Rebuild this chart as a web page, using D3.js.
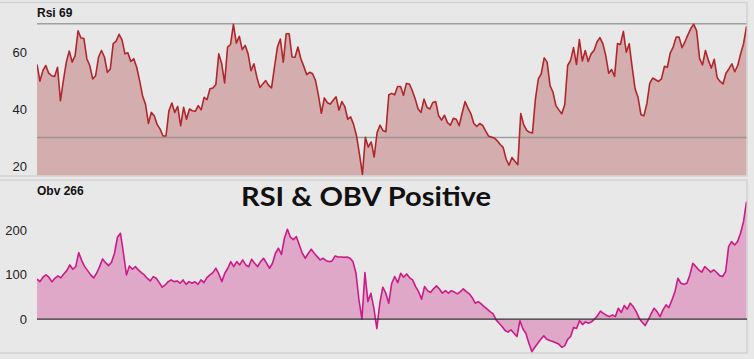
<!DOCTYPE html>
<html>
<head>
<meta charset="utf-8">
<script src="https://cdn.jsdelivr.net/npm/d3@7"></script>
<style>
  body { margin: 0; background: #e8e8e8; }
  svg { display: block; }
</style>
</head>
<body>
<svg width="754" height="359"></svg>
<script>
// values, left to right
const rsiValues = [
  55.7, 49.8, 53.5, 55.3, 52.6, 51.7, 51.4, 54.7, 42.9, 50,
  56.5, 60.4, 56.5, 58.8, 67.5, 65, 64.8, 57.7, 55.3, 50.6,
  51.7, 58.3, 60.6, 58.3, 52.9, 54.1, 63, 63.9, 66.3, 64.3,
  59.4, 59.8, 56.7, 57.7, 54.7, 50, 44.7, 41.7, 34.9, 38.8,
  37.6, 34.5, 32.9, 30.5, 30.5, 39.4, 42.1, 38.8, 40.9, 34.1,
  40.6, 36.4, 40, 39.4, 39.2, 41.2, 39.7, 44.1, 43.3, 47.1,
  47.4, 48.6, 59.4, 55.9, 49.2, 61.8, 62.7, 69.8, 63.2, 65.6,
  60.9, 62.4, 59.4, 53.5, 55.9, 51.2, 47.6, 48.8, 50, 48.3,
  47.4, 54.7, 61.8, 64.6, 56.5, 66.5, 66.5, 58.3, 58.2, 61.8,
  57.7, 55, 52.1, 52.9, 52.4, 50, 44.8, 38.5, 43.9, 42.3,
  41.7, 43.1, 44.3, 39.6, 42.6, 40.8, 36.4, 37.2, 34.5, 30.5,
  24, 17, 30, 26.6, 28.4, 23.1, 31.7, 34.3, 32.4, 32,
  45, 45.5, 45, 47.9, 47.9, 44.8, 49, 48.8, 46.5, 43.5,
  40, 38.8, 43.5, 40.6, 40, 42.3, 42.6, 37.6, 36.1, 37.8,
  35.2, 34.3, 36.7, 36.4, 34.1, 38.5, 42.6, 40.3, 38.3, 34.9,
  33.9, 34.9, 34.2, 32.3, 30.5, 30.1, 29.8, 28.8, 27.5, 26.5,
  22.4, 20.2, 22.9, 21.6, 20.4, 38.4, 34.5, 32.6, 31.8, 31.6,
  43.5, 50.6, 52.4, 58, 56.5, 48.2, 45.9, 41.2, 39.7, 38.3,
  41.5, 55.3, 57.1, 61.6, 55.7, 64.4, 56.9, 60.6, 56.7, 59.4,
  60.6, 63.6, 65.1, 63, 58.8, 52.6, 53.9, 51.5, 63, 62.7,
  67.3, 60, 63, 54.7, 47.1, 44.1, 38, 37.6, 41.8, 49,
  50.9, 50.3, 49.7, 50.6, 55, 54.7, 59.7, 61.8, 65.3, 65.3,
  61.6, 63.6, 66.1, 68.3, 69.8, 67.5, 57.7, 55.5, 60.6, 57.1,
  54.4, 57.5, 51, 49.7, 48.8, 52.6, 54.1, 55.9, 53.1, 55.3,
  59.4, 63, 69.1
];

const obvValues = [
  90, 84.5, 94.4, 99.6, 94.4, 83.8, 92, 97.3, 93, 101.8,
  109.2, 122, 112.3, 118.2, 149.7, 131.7, 118.2, 109.2, 99.6, 93,
  103.3, 118.2, 135.5, 127.2, 120.5, 128, 148.3, 184.3, 193.3, 148.3,
  99.6, 119.8, 112.3, 118.2, 110.7, 104.8, 99.6, 92, 86, 95.7,
  92, 82.2, 71.9, 77, 84.5, 88.3, 84.5, 86, 80.9, 88.3,
  78.4, 84.5, 80.9, 84, 78.4, 88.3, 82.2, 93.5, 99.6, 104.8,
  114.6, 101.8, 84.5, 103.3, 114.6, 129.5, 118.2, 129.5, 122, 133.3,
  122, 118, 134.8, 125.7, 118.2, 129.5, 137, 126, 114.6, 125.8,
  148.3, 159.6, 145.5, 182, 202.2, 184.3, 178.7, 185.6, 167, 148.3,
  137, 148.3, 157.3, 148.3, 140.7, 133.3, 137, 131.5, 129.5, 131,
  142.2, 139.7, 140, 139, 140, 137, 129.5, 103.3, 43.4, 0,
  104.8, 39.6, 58.4, 24.7, -21, 36, 71.9, 58.4, 36, 80.9,
  96, 82.2, 103.3, 94.4, 101.8, 93, 88.3, 73.3, 62, 44.9,
  73.3, 64.3, 60, 68.3, 74.8, 68, 58.4, 64.3, 58.4, 64,
  61, 56.9, 62, 68.3, 62, 57, 48.5, 36, 39.6, 34.5,
  28.4, 22.5, 17.1, 12, -1.6, -9, -16.6, -25.6, -29, -24,
  -31.5, -39, -3.5, -22, -31.5, -54, -72.8, -63, -54, -45,
  -37.5, -45, -48, -50.3, -53, -56, -63, -60, -45.5, -39,
  -18.5, -21, -3.5, -12, -6, -9, -6, 0, 8, 18,
  13, 9, 5.8, 9.5, 5.8, 24.7, 15, 30.6, 22.5, 36,
  28.4, 17.1, 2, -6.8, -14.3, -2, 12, 24.7, 17.1, 5.8,
  20.9, 32.1, 26.2, 43.4, 62, 92, 80.9, 78.4, 80.9, 99.6,
  125.8, 118.2, 110.8, 105.8, 118.2, 112.3, 105.8, 111, 105, 98,
  96, 107, 163.1, 174.4, 167, 174.4, 193.3, 219.3, 264.3
];

const rsiTicks = [20, 40, 60];
const rsiBands = [30, 70];
const obvTicks = [0, 100, 200];
const rsiLabel = 'Rsi 69';
const obvLabel = 'Obv 266';
const title = 'RSI & OBV Positive';

const svg = d3.select('svg');
const left = 37, right = 746.5;

// panel frames
svg.append('rect').attr('x', -1).attr('y', 2.5).attr('width', 748).attr('height', 173.5)
  .attr('fill', 'none').attr('stroke', '#d2d2d2').attr('stroke-width', 1.5);
svg.append('rect').attr('x', -1).attr('y', 180).attr('width', 748).attr('height', 173)
  .attr('fill', 'none').attr('stroke', '#d2d2d2').attr('stroke-width', 1.5);

// ---- RSI panel ----
const xRsi = d3.scaleLinear().domain([0, rsiValues.length - 1]).range([left, right]);
const yRsi = d3.scaleLinear().domain([16.6, 77.3]).range([175.5, 3]);

svg.append('clipPath').attr('id', 'clipRsi')
  .append('rect').attr('x', left).attr('y', 3).attr('width', right - left).attr('height', 172.5);

const gRsi = svg.append('g').attr('clip-path', 'url(#clipRsi)');

gRsi.append('path')
  .datum(rsiValues)
  .attr('fill', '#d4aeae')
  .attr('d', d3.area().x((d, i) => xRsi(i)).y0(175.5).y1(d => yRsi(d)));

gRsi.selectAll('.band')
  .data(rsiBands)
  .enter()
  .append('line')
  .classed('band', true)
  .attr('x1', left).attr('x2', 747)
  .attr('y1', d => yRsi(d)).attr('y2', d => yRsi(d))
  .attr('stroke', '#8c8c8c').attr('stroke-opacity', 0.8).attr('stroke-width', 1.5);

gRsi.append('path')
  .datum(rsiValues)
  .attr('fill', 'none')
  .attr('stroke', '#b0262c')
  .attr('stroke-width', 1.6)
  .attr('stroke-linejoin', 'round')
  .attr('d', d3.line().x((d, i) => xRsi(i)).y(d => yRsi(d)));

const rsiAxis = svg.append('g')
  .attr('transform', 'translate(27,0)')
  .call(d3.axisLeft(yRsi).tickValues(rsiTicks).tickSize(0).tickPadding(0));
rsiAxis.select('.domain').remove();
rsiAxis.selectAll('text').attr('font-family', 'Liberation Sans, Arial, sans-serif')
  .attr('font-size', 13).attr('fill', '#222');

svg.append('text').attr('x', left).attr('y', 17)
  .attr('font-family', 'Liberation Sans, Arial, sans-serif').attr('font-size', 12)
  .attr('font-weight', 'bold').attr('fill', '#111').text(rsiLabel);

// ---- OBV panel ----
const xObv = d3.scaleLinear().domain([0, obvValues.length - 1]).range([left, right]);
const yObv = d3.scaleLinear().domain([-76, 313]).range([353, 180]);

svg.append('clipPath').attr('id', 'clipObv')
  .append('rect').attr('x', left).attr('y', 180).attr('width', right - left).attr('height', 173);

const gObv = svg.append('g').attr('clip-path', 'url(#clipObv)');

gObv.append('path')
  .datum(obvValues)
  .attr('fill', '#dfa8c9')
  .attr('d', d3.area().x((d, i) => xObv(i)).y0(yObv(0)).y1(d => yObv(d)));

gObv.append('path')
  .datum(obvValues)
  .attr('fill', 'none')
  .attr('stroke', '#cc1a88')
  .attr('stroke-width', 1.6)
  .attr('stroke-linejoin', 'round')
  .attr('d', d3.line().x((d, i) => xObv(i)).y(d => yObv(d)));

svg.append('line')
  .attr('x1', left).attr('x2', 747)
  .attr('y1', yObv(0)).attr('y2', yObv(0))
  .attr('stroke', '#333').attr('stroke-width', 1.3);

const obvAxis = svg.append('g')
  .attr('transform', 'translate(27,0)')
  .call(d3.axisLeft(yObv).tickValues(obvTicks).tickSize(0).tickPadding(0));
obvAxis.select('.domain').remove();
obvAxis.selectAll('text').attr('font-family', 'Liberation Sans, Arial, sans-serif')
  .attr('font-size', 13).attr('fill', '#222');

svg.append('text').attr('x', left).attr('y', 195)
  .attr('font-family', 'Liberation Sans, Arial, sans-serif').attr('font-size', 12)
  .attr('font-weight', 'bold').attr('fill', '#111').text(obvLabel);

// title: stretch to the width it has in the picture
svg.append('text').attr('x', 241).attr('y', 206)
  .attr('font-family', 'Lato, sans-serif').attr('font-size', 27)
  .attr('font-weight', 'bold').attr('fill', '#111')
  .attr('textLength', 250).attr('lengthAdjust', 'spacingAndGlyphs')
  .text(title);
</script>
</body>
</html>
